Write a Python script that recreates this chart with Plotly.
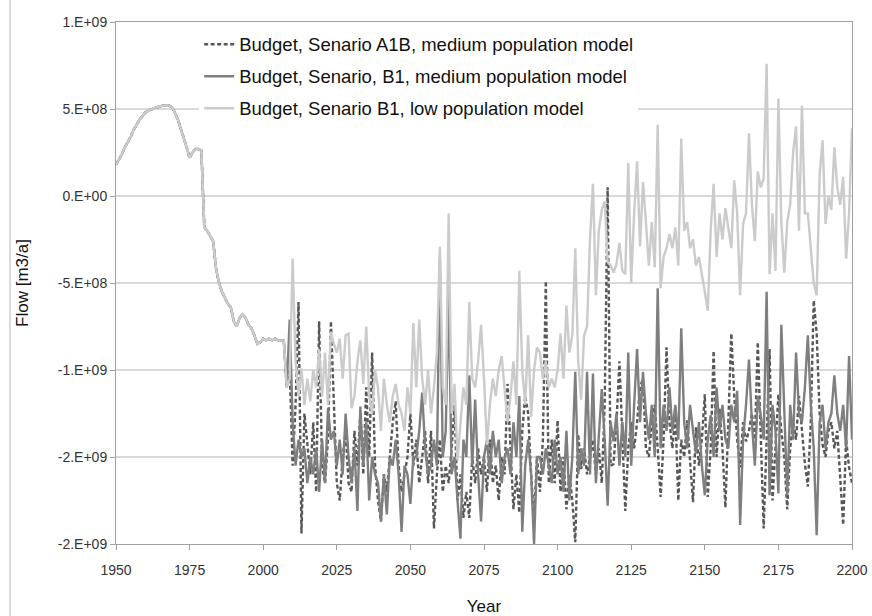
import plotly.graph_objects as go

# Values in units of 1e8 m3/a
hist_years_start = 1950
history = [
    1.8, 2.1, 2.4, 2.8, 3.1, 3.4, 3.8, 4.1, 4.4, 4.6,
    4.8, 4.9, 5.0, 5.05, 5.1, 5.15, 5.2, 5.2, 5.2, 5.1,
    4.8, 4.4, 3.9, 3.3, 2.8, 2.2, 2.5, 2.7, 2.7, 2.6,
    -1.8, -2.0, -2.3, -2.6, -4.2, -5.0, -5.5, -5.9, -6.2, -6.4,
    -7.2, -7.5, -7.0, -6.8, -7.0, -7.4, -7.6, -8.0, -8.5, -8.4,
    -8.2, -8.3, -8.2, -8.3, -8.2, -8.3, -8.3, -8.3, -11.0,
]

future_start = 2009
a1b_medium = [
    -10.0, -15.5, -12.0, -6.1, -19.4, -12.5, -14.5, -16.0, -13.0, -17.0,
    -7.2, -15.5, -16.5, -14.0, -7.2, -11.5, -16.5, -17.5, -15.0, -13.5,
    -16.5, -17.0, -13.5, -15.5, -12.5, -16.0, -11.0, -15.0, -9.0, -15.5,
    -17.5, -18.7, -16.0, -17.0, -15.0, -13.0, -11.8, -15.5, -17.0, -16.0,
    -15.0, -12.5, -15.5, -14.0, -16.5, -15.0, -13.5, -16.5, -13.5, -19.1,
    -16.0, -14.0, -17.0, -15.5, -16.5, -14.5, -12.0, -17.5, -16.0, -18.5,
    -17.0, -18.5, -15.0, -16.5, -14.5, -16.0, -15.0, -17.0, -14.0, -16.5,
    -15.5, -17.5, -15.0, -16.0, -10.8, -14.5, -18.0, -16.0, -18.2, -13.5,
    -11.5, -12.5, -16.0, -18.5, -15.0, -17.0, -14.0, -4.9, -16.5, -14.0,
    -16.5, -12.9, -17.0, -15.0, -18.0, -16.0, -17.5, -19.9, -13.7, -15.7,
    -14.5, -16.0, -15.0, -14.0, -16.0, -14.5, -16.5, -12.0, 0.5, -15.5,
    -15.4, -13.0, -9.5, -14.0, -18.1, -14.5, -13.0, -14.5, -13.0, -11.0,
    -10.5, -14.5, -15.0, -13.0, -12.0, -14.5, -17.3, -14.0, -8.7, -13.0,
    -14.5, -12.5, -17.5, -14.0, -15.0, -12.9, -15.0, -17.6, -13.3, -15.5,
    -14.0, -11.4, -17.3, -14.5, -8.9, -15.0, -12.2, -14.5, -17.9, -13.0,
    -7.9, -11.5, -14.0, -15.6, -13.0, -14.1, -13.5, -12.5, -14.0, -8.4,
    -13.5, -19.1, -14.0, -8.8, -17.5, -14.0, -11.4, -13.5, -15.0, -18.0,
    -14.5, -13.0, -14.0, -11.5, -13.5, -15.4, -16.7, -13.0, -6.0, -7.9,
    -12.5, -14.3, -15.0, -13.5, -13.0, -14.5, -13.5, -16.0, -18.9, -14.0,
    -15.6, -16.5,
]
b1_medium = [
    -7.1, -13.0, -15.5, -14.0, -15.0, -14.5, -16.5, -15.0, -16.0, -14.5,
    -17.0, -14.0, -16.5, -12.2, -14.0, -13.5, -15.5, -14.0, -16.0, -12.5,
    -15.0, -16.5, -14.5, -18.1, -12.1, -15.5, -13.0, -17.5, -15.0, -16.0,
    -16.5, -18.7, -16.0, -18.3, -15.0, -15.5, -14.0, -16.0, -19.3, -15.5,
    -16.0, -17.7, -15.0, -15.0, -13.5, -11.3, -14.5, -16.0, -15.5, -14.0,
    -15.5, -3.5, -15.0, -13.5, -5.5, -16.0, -15.0, -17.5, -19.7, -14.0,
    -15.0, -10.3, -15.5, -11.7, -16.0, -18.7, -15.0, -14.0, -16.0, -13.5,
    -15.0, -14.0, -16.5, -15.0, -14.5, -16.0, -13.0, -15.0, -11.5, -19.3,
    -15.5, -14.0, -16.0, -20.0, -15.0, -15.0, -16.0, -14.5, -15.5, -16.5,
    -14.0, -16.0, -15.0, -17.0, -13.5, -17.5, -15.0, -10.1, -16.0, -14.5,
    -15.5, -10.1, -16.0, -10.2, -16.5, -14.0, -11.1, -14.0, -17.8, -13.0,
    -14.1, -12.5, -15.5, -13.0, -15.0, -9.0, -15.5, -12.0, -8.8, -13.0,
    -10.1, -12.5, -14.0, -12.0, -15.0, -5.3, -14.5, -12.0, -13.5, -11.0,
    -13.5, -12.0, -14.0, -7.6, -13.0, -14.5, -12.0, -13.5, -14.8, -13.0,
    -15.5, -17.2, -14.0, -12.6, -15.0, -11.0, -13.5, -12.0, -14.0, -14.5,
    -12.0, -13.0, -11.2, -18.9, -14.0, -12.0, -9.4, -13.0, -15.5, -11.5,
    -12.6, -14.0, -5.5, -17.2, -12.0, -13.5, -17.1, -7.4, -13.0, -17.2,
    -12.0, -14.0, -9.0, -12.5, -13.0, -11.0, -8.0, -12.0, -14.5, -19.5,
    -13.0, -12.0, -14.5, -13.0, -12.5, -10.3, -12.5, -13.5, -12.0, -14.5,
    -9.2, -14.0,
]
b1_low = [
    -10.5, -3.6, -9.5, -11.5, -9.9, -12.0, -10.5, -11.8, -10.0, -11.0,
    -8.8, -11.5, -9.0, -12.0, -7.8, -8.5, -9.0, -8.2, -10.5, -8.0,
    -7.9, -12.2, -11.5, -9.5, -8.3, -10.8, -7.5, -11.5, -12.5, -10.0,
    -11.0, -13.5, -10.5, -12.0, -13.0, -11.5, -10.8, -12.0, -12.5, -13.5,
    -11.0, -12.5, -7.3, -11.0, -7.1, -10.5, -12.0, -10.0, -12.5, -11.0,
    -9.0, -2.9, -11.0, -12.0, -1.0, -12.5, -10.8, -15.2, -13.0, -11.0,
    -12.0, -6.1, -10.5, -11.0, -9.5, -7.4, -10.5, -14.3, -12.0, -10.5,
    -11.5, -10.0, -9.2, -11.0, -13.0, -11.5, -9.5, -12.0, -4.3, -10.0,
    -12.0, -8.0, -12.7, -10.0, -8.7, -9.0, -10.5, -9.5, -11.0, -10.5,
    -11.0, -10.0, -7.9, -10.5, -6.3, -9.0, -8.0, -3.0, -9.5, -11.7,
    -8.0, -7.5, -2.5, 0.7, -5.7, -2.0, -0.8, -0.3, -3.8, -4.0,
    -4.4, -3.9, -2.7, -4.3, -4.5, 1.9, -5.0, -1.0, 2.0, -2.9,
    0.8, -1.5, -4.0, -1.5, -4.1, 4.1, -5.3, -3.5, -3.0, -2.2,
    -3.0, -1.8, -4.0, 3.3, -2.0, -1.5, -3.0, -2.5, -4.0, -3.5,
    -4.4, -5.5, -6.6, -2.0, 0.7, -3.5, -1.0, -2.5, -0.7, -2.0,
    -3.0, 0.9, -1.0, -5.7, -1.6, -1.0, 3.6, -0.5, -2.6, 1.4,
    0.5, 1.0, 7.6, -4.5, -1.0, -4.3, 5.6, -1.5, -4.4, -1.5,
    -0.5, 2.5, 4.0, -2.0, 5.2, -1.0, -1.0, -3.0, -5.0, -5.7,
    1.2, 3.2, -1.6, 0.0, -0.8, 2.8, 0.5, -0.5, 1.1, -3.6,
    -1.0, 3.9,
]

series_names = [
    "Budget, Senario A1B, medium population model",
    "Budget, Senario, B1, medium population model",
    "Budget, Senario B1, low population model",
]
y_tickvals = [-2.0e9, -1.5e9, -1.0e9, -5.0e8, 0.0, 5.0e8, 1.0e9]
y_ticktext = ["-2.E+09", "-2.E+09", "-1.E+09", "-5.E+08", "0.E+00", "5.E+08", "1.E+09"]
x_tickvals = [1950, 1975, 2000, 2025, 2050, 2075, 2100, 2125, 2150, 2175, 2200]

SCALE = 1e8


def full_series(future):
    vals = history + future
    years = list(range(hist_years_start, hist_years_start + len(vals)))
    return years, [v * SCALE for v in vals]


styles = [
    dict(color="#575757", width=2.4, dash="4px,2.5px"),
    dict(color="#7f7f7f", width=2.4),
    dict(color="#cbcbcb", width=2.4),
]

fig = go.Figure()
for i, (name, fut, st) in enumerate(zip(series_names, [a1b_medium, b1_medium, b1_low], styles)):
    xs, ys = full_series(fut)
    fig.add_trace(go.Scatter(x=xs, y=ys, mode="lines", name=name, line=st,
                             legendgroup=f"g{i}"))

fig.update_layout(
    width=872, height=616,
    margin=dict(l=116, r=20, t=22, b=72),
    paper_bgcolor="white", plot_bgcolor="white",
    font=dict(family="Liberation Sans, Arial, sans-serif", color="#222222"),
    showlegend=True,
    legend=dict(
        x=0.113, y=0.993, xanchor="left", yanchor="top",
        bgcolor="white", borderwidth=0,
        font=dict(size=18.5, color="#111111"),
        tracegroupgap=5,
        traceorder="grouped",
    ),
)
fig.update_xaxes(
    range=[1950, 2200], tickvals=x_tickvals, automargin=False,
    ticks="outside", ticklen=5, tickcolor="#a0a0a0",
    showline=True, linecolor="#a0a0a0", linewidth=1, mirror=True,
    showgrid=False, zeroline=False, ticklabelstandoff=8,
    tickfont=dict(size=14, color="#333333"),
    title=dict(text="Year", font=dict(size=17, color="#111111"), standoff=26),
)
fig.update_yaxes(
    range=[-2.0e9, 1.0e9], tickvals=y_tickvals, ticktext=y_ticktext, automargin=False,
    ticks="outside", ticklen=5, tickcolor="#a0a0a0",
    showline=True, linecolor="#a0a0a0", linewidth=1, mirror=True,
    showgrid=True, gridcolor="#d9d9d9", gridwidth=1.5, zeroline=False,
    tickfont=dict(size=14, color="#333333"),
    title=dict(text="Flow [m3/a]", font=dict(size=17, color="#111111"), standoff=24),
)
# outer chart border line on the left
fig.add_shape(type="line", xref="paper", yref="paper",
              x0=-0.144, x1=-0.144, y0=-0.14, y1=1.05,
              line=dict(color="#b5b5b5", width=1))

fig.write_html("out.html")
